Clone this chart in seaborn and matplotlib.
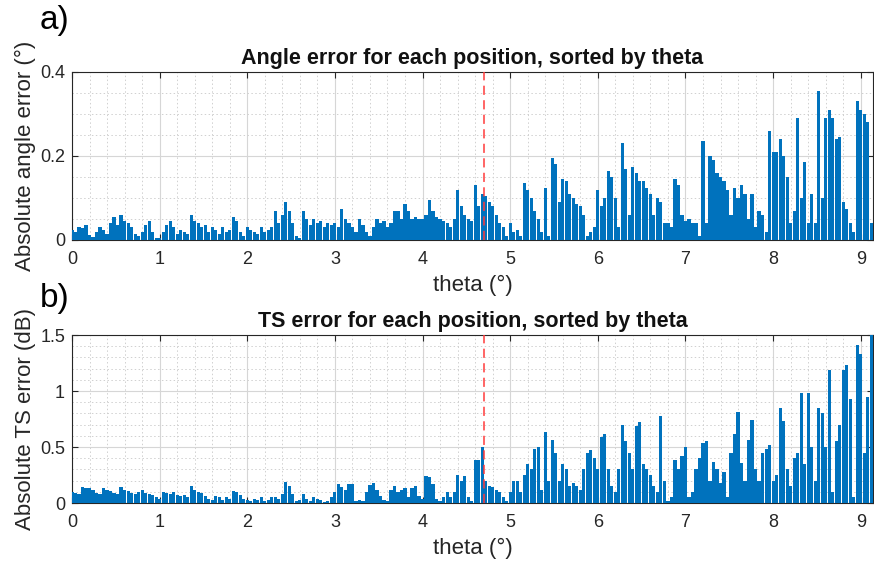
import numpy as np
import pandas as pd
import matplotlib
matplotlib.use("Agg")
import matplotlib.pyplot as plt
from matplotlib.ticker import MultipleLocator
import seaborn as sns

# ---- data (sorted by theta, 0.04 deg spacing) ----
angle_err = [
    # 0.00 - 0.96
    0.025, 0.02, 0.03, 0.028, 0.035, 0.012, 0.008, 0.02, 0.03, 0.025, 0.015, 0.04, 0.055,
    0.035, 0.06, 0.045, 0.04, 0.03, 0.015, 0.01, 0.02, 0.035, 0.045, 0.02, 0.005,
    # 1.00 - 1.96
    0.004, 0.02, 0.035, 0.045, 0.03, 0.015, 0.025, 0.02, 0.015, 0.06, 0.045, 0.04, 0.03,
    0.035, 0.02, 0.03, 0.025, 0.015, 0.03, 0.02, 0.025, 0.055, 0.045, 0.02, 0.01,
    # 2.00 - 2.96
    0.03, 0.025, 0.02, 0.015, 0.03, 0.02, 0.025, 0.03, 0.07, 0.04, 0.06, 0.09, 0.07,
    0.04, 0.01, 0.005, 0.07, 0.05, 0.035, 0.05, 0.04, 0.045, 0.03, 0.04, 0.035,
    # 3.00 - 3.96
    0.04, 0.03, 0.075, 0.05, 0.04, 0.03, 0.02, 0.05, 0.035, 0.02, 0.01, 0.03, 0.05,
    0.04, 0.045, 0.03, 0.04, 0.07, 0.07, 0.05, 0.085, 0.07, 0.05, 0.055, 0.05,
    # 4.00 - 4.96
    0.05, 0.06, 0.095, 0.07, 0.055, 0.05, 0.045, 0.04, 0.03, 0.05, 0.12, 0.08, 0.06,
    0.05, 0.045, 0.13, 0.08, 0.11, 0.105, 0.09, 0.08, 0.06, 0.04, 0.03, 0.01,
    # 5.00 - 5.96
    0.04, 0.02, 0.025, 0.01, 0.135, 0.12, 0.1, 0.07, 0.05, 0.02, 0.125, 0.01, 0.195,
    0.18, 0.09, 0.145, 0.14, 0.11, 0.1, 0.085, 0.08, 0.06, 0.01, 0.02, 0.03,
    # 6.00 - 6.96
    0.12, 0.08, 0.1, 0.165, 0.15, 0.1, 0.03, 0.23, 0.17, 0.06, 0.175, 0.16, 0.14,
    0.14, 0.125, 0.11, 0.06, 0.1, 0.09, 0.04, 0.04, 0.03, 0.145, 0.13, 0.06,
    # 7.00 - 7.96
    0.045, 0.05, 0.04, 0.04, 0.01, 0.235, 0.04, 0.2, 0.19, 0.16, 0.15, 0.14, 0.12,
    0.06, 0.125, 0.1, 0.13, 0.11, 0.05, 0.11, 0.03, 0.07, 0.06, 0.02, 0.26,
    # 8.00 - 8.96
    0.21, 0.21, 0.24, 0.2, 0.15, 0.04, 0.07, 0.29, 0.1, 0.185, 0.04, 0.11, 0.04,
    0.355, 0.1, 0.29, 0.31, 0.29, 0.24, 0.245, 0.09, 0.075, 0.04, 0.02, 0.33,
    # 9.00 - 9.12
    0.31, 0.30, 0.28, 0.04,
]

ts_err = [
    # 0.00 - 0.96
    0.10, 0.09, 0.08, 0.14, 0.13, 0.13, 0.12, 0.09, 0.08, 0.13, 0.12, 0.11, 0.09,
    0.08, 0.14, 0.12, 0.11, 0.09, 0.08, 0.10, 0.12, 0.09, 0.08, 0.07, 0.05,
    # 1.00 - 1.96
    0.04, 0.10, 0.09, 0.08, 0.10, 0.07, 0.06, 0.07, 0.05, 0.15, 0.12, 0.10, 0.09,
    0.06, 0.04, 0.03, 0.06, 0.05, 0.03, 0.05, 0.04, 0.11, 0.10, 0.07, 0.04,
    # 2.00 - 2.96
    0.03, 0.02, 0.04, 0.03, 0.05, 0.02, 0.03, 0.05, 0.05, 0.04, 0.08, 0.19, 0.15,
    0.08, 0.02, 0.03, 0.08, 0.04, 0.02, 0.05, 0.04, 0.03, 0.01, 0.02, 0.05,
    # 3.00 - 3.96
    0.10, 0.17, 0.14, 0.12, 0.17, 0.17, 0.02, 0.03, 0.02, 0.10, 0.16, 0.18, 0.12,
    0.06, 0.03, 0.02, 0.12, 0.15, 0.10, 0.12, 0.13, 0.05, 0.13, 0.15, 0.06,
    # 4.00 - 4.96
    0.04, 0.24, 0.23, 0.17, 0.04, 0.02, 0.05, 0.10, 0.05, 0.10, 0.25, 0.20, 0.24,
    0.05, 0.02, 0.38, 0.38, 0.50, 0.20, 0.15, 0.14, 0.12, 0.10, 0.05, 0.02,
    # 5.00 - 5.96
    0.10, 0.20, 0.20, 0.10, 0.25, 0.35, 0.30, 0.48, 0.50, 0.12, 0.63, 0.20, 0.56,
    0.45, 0.20, 0.35, 0.30, 0.15, 0.18, 0.15, 0.12, 0.30, 0.45, 0.47, 0.40,
    # 6.00 - 6.96
    0.30, 0.59, 0.62, 0.30, 0.15, 0.10, 0.30, 0.70, 0.55, 0.45, 0.30, 0.69, 0.72,
    0.35, 0.30, 0.25, 0.15, 0.10, 0.78, 0.20, 0.02, 0.05, 0.38, 0.30, 0.42,
    # 7.00 - 7.96
    0.50, 0.05, 0.10, 0.30, 0.40, 0.54, 0.55, 0.20, 0.37, 0.30, 0.18, 0.28, 0.05,
    0.45, 0.62, 0.81, 0.36, 0.20, 0.56, 0.74, 0.30, 0.20, 0.45, 0.48, 0.52,
    # 8.00 - 8.96
    0.20, 0.25, 0.85, 0.73, 0.30, 0.15, 0.40, 0.45, 0.98, 0.35, 0.98, 0.50, 0.20,
    0.85, 0.80, 0.50, 1.19, 0.10, 0.55, 0.70, 1.19, 1.23, 0.93, 0.05, 1.41,
    # 9.00 - 9.12
    1.33, 0.45, 0.95, 1.50,
]

theta_step = 0.04
theta = np.round(np.arange(len(angle_err)) * theta_step, 2)
threshold = 4.7

x_ticks = list(range(0, 10))
top_yticks = [0, 0.2, 0.4]
top_ylabels = ["0", "0.2", "0.4"]
bot_yticks = [0, 0.5, 1, 1.5]
bot_ylabels = ["0", "0.5", "1", "1.5"]

df_a = pd.DataFrame({"theta": theta, "err": angle_err})
df_b = pd.DataFrame({"theta": theta, "err": ts_err})

# ---- style ----
sns.set_style("white")
plt.rcParams["font.family"] = ["Liberation Sans", "DejaVu Sans"]

bar_color = "#0072BD"
fig = plt.figure(figsize=(8.74, 5.66), dpi=100)
ax1 = fig.add_axes([72 / 874, 1 - 240 / 566, 801 / 874, 168 / 566])
ax2 = fig.add_axes([72 / 874, 1 - 503 / 566, 801 / 874, 168 / 566])

panels = [
    (ax1, df_a, "Angle error for each position, sorted by theta",
     "Absolute angle error (°)", (0, 0.4), top_yticks, top_ylabels, 0.05, "a)", 20),
    (ax2, df_b, "TS error for each position, sorted by theta",
     "Absolute TS error (dB)", (0, 1.5), bot_yticks, bot_ylabels, 0.1, "b)", 298),
]

for ax, df, title, ylabel, ylim, yt, ytl, yminor, tag, tag_y in panels:
    sns.barplot(data=df, x="theta", y="err", native_scale=True, ax=ax,
                color=bar_color, saturation=1, width=0.9, errorbar=None,
                linewidth=0, zorder=3)
    ax.axvline(threshold, color="#FF3B3B", lw=1.1, ls=(0, (6, 3.5)), zorder=4)
    ax.set_xlim(0, 9.14)
    ax.set_ylim(*ylim)
    ax.set_xticks(x_ticks)
    ax.set_xticklabels([str(t) for t in x_ticks])
    ax.set_yticks(yt)
    ax.set_yticklabels(ytl)
    ax.xaxis.set_minor_locator(MultipleLocator(0.2))
    ax.yaxis.set_minor_locator(MultipleLocator(yminor))
    ax.grid(True, which="major", color="#d6d6d6", lw=0.8, ls="-", zorder=0)
    ax.grid(True, which="minor", color="#d0d0d0", lw=0.7, ls=(0, (1.5, 2.5)), zorder=0)
    ax.set_axisbelow(True)
    ax.tick_params(which="major", direction="in", length=4, width=0.8,
                   top=True, right=True, bottom=True, left=True,
                   labelsize=13, colors="#262626")
    ax.tick_params(axis="x", which="major", pad=8)
    ax.tick_params(axis="y", which="major", pad=5)
    ax.tick_params(which="minor", length=0)
    for s in ax.spines.values():
        s.set_color("#262626")
        s.set_linewidth(0.8)
    ax.set_title(title, fontsize=15.5, fontweight="bold", pad=6, color="#111111")
    ax.set_xlabel("theta (°)", fontsize=16, color="#262626", labelpad=5)
    ax.set_ylabel(ylabel, fontsize=16, color="#262626", labelpad=3)
    fig.text(40 / 874, 1 - tag_y / 566, tag, fontsize=24, ha="left", va="center",
             color="#000000")

fig.savefig("out.png", dpi=100)
